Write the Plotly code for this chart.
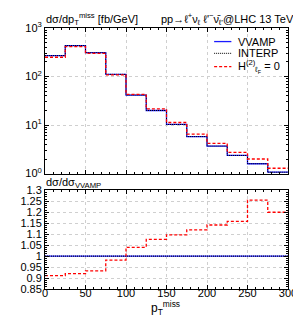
import plotly.graph_objects as go
from plotly.subplots import make_subplots

bin_edges = [0, 25, 50, 75, 100, 125, 150, 175, 200, 225, 250, 275, 300]
vvamp = [270, 435, 310, 111, 41.5, 20, 10.3, 5.8, 3.7, 2.37, 1.6, 1.07]
interp = [270, 435, 310, 111, 41.5, 20, 10.3, 5.8, 3.7, 2.37, 1.6, 1.07]
h2zero = [250, 415, 300, 108, 43, 21.5, 11.3, 6.5, 4.2, 2.74, 2.0, 1.29]
ratio_interp = [1.0] * 12
ratio_h2zero = [0.911, 0.92, 0.933, 0.982, 1.04, 1.076, 1.097, 1.12, 1.142, 1.158, 1.255, 1.20]
legend_names = ["VVAMP", "INTERP", "H<sup>(2)</sup><sub>ℓ<sub>F</sub></sub> = 0"]

FONT = "Liberation Sans, Arial, sans-serif"
BLUE = "#1a1aff"
RED = "#ff0000"
RED_DASH = "3px,2px"
DOT = "1px,1px"

def step(vals):
    return list(vals) + [vals[-1]]

fig = make_subplots(rows=2, cols=1, shared_xaxes=False, vertical_spacing=0.0)

fig.add_trace(go.Scatter(x=bin_edges, y=step(vvamp), mode="lines", line_shape="hv",
                         line=dict(color=BLUE, width=1.3), showlegend=False), row=1, col=1)
fig.add_trace(go.Scatter(x=bin_edges, y=step(interp), mode="lines", line_shape="hv",
                         line=dict(color="black", width=1, dash=DOT), showlegend=False), row=1, col=1)
fig.add_trace(go.Scatter(x=bin_edges, y=step(h2zero), mode="lines", line_shape="hv",
                         line=dict(color=RED, width=1.3, dash=RED_DASH), showlegend=False), row=1, col=1)

fig.add_trace(go.Scatter(x=bin_edges, y=step([1.0] * 12), mode="lines", line_shape="hv",
                         line=dict(color=BLUE, width=1.3), showlegend=False), row=2, col=1)
fig.add_trace(go.Scatter(x=bin_edges, y=step(ratio_interp), mode="lines", line_shape="hv",
                         line=dict(color="black", width=1, dash=DOT), showlegend=False), row=2, col=1)
fig.add_trace(go.Scatter(x=bin_edges, y=step(ratio_h2zero), mode="lines", line_shape="hv",
                         line=dict(color=RED, width=1.3, dash=RED_DASH), showlegend=False), row=2, col=1)

axis_common = dict(showline=True, linecolor="black", linewidth=1, mirror="allticks",
                   ticks="inside", tickcolor="black", ticklen=4,
                   showgrid=True, gridcolor="#cfcfcf", griddash="dot", gridwidth=1,
                   zeroline=False, tickfont=dict(family=FONT, size=11, color="black"))

fig.update_xaxes(**axis_common, range=[0, 300], tickvals=[0, 50, 100, 150, 200, 250, 300],
                 minor=dict(dtick=10, ticks="inside", ticklen=2, tickcolor="black", showgrid=False))
fig.update_xaxes(showticklabels=False, row=1, col=1)
fig.update_xaxes(row=2, col=1, ticktext=["0", "50", "100", "150", "200", "250", "300"],
                 ticklabelstandoff=-6)

fig.update_yaxes(**axis_common, row=1, col=1, type="log", range=[0, 3],
                 tickvals=[1, 10, 100, 1000],
                 ticktext=["10<sup>0</sup>", "10<sup>1</sup>", "10<sup>2</sup>", "10<sup>3</sup>"],
                 minor=dict(tickvals=[a * 10 ** b for b in range(3) for a in range(2, 10)],
                            ticks="inside", ticklen=2, tickcolor="black", showgrid=False))
fig.update_yaxes(**axis_common, row=2, col=1, range=[0.85, 1.3],
                 tickvals=[0.85, 0.9, 0.95, 1, 1.05, 1.1, 1.15, 1.2, 1.25, 1.3],
                 ticktext=["0.85", "0.9", "0.95", "1", "1.05", "1.1", "1.15", "1.2", "1.25", "1.3"],
                 minor=dict(dtick=0.01, ticks="inside", ticklen=2, tickcolor="black", showgrid=False))

# custom legend (sample lines + labels) in paper coordinates
leg_styles = [dict(color=BLUE, width=1.3), dict(color="black", width=1, dash=DOT),
              dict(color=RED, width=1.3, dash=RED_DASH)]
leg_y = [0.948, 0.903, 0.852]
shapes = []
annotations = []
for name, st, yy in zip(legend_names, leg_styles, leg_y):
    shapes.append(dict(type="line", xref="paper", yref="paper", x0=0.696, x1=0.767,
                       y0=yy, y1=yy, line=st))
    annotations.append(dict(text=name, xref="paper", yref="paper", x=0.785, y=yy,
                            xanchor="left", yanchor="middle", showarrow=False,
                            font=dict(family=FONT, size=11, color="black")))

annotations += [
    dict(text="dσ/dp<sub>T</sub><sup>miss</sup> [fb/GeV]", xref="paper", yref="paper",
         x=0.0, y=1.0, xanchor="left", yanchor="bottom", showarrow=False,
         font=dict(family=FONT, size=11), yshift=-1, xshift=-1),
    dict(text="pp→ℓ<sup>+</sup>ν<sub>ℓ</sub> ℓ'<sup>−</sup>ν̄<sub>ℓ'</sub>@LHC 13 TeV", xref="paper", yref="paper",
         x=1.031, y=1.0, xanchor="right", yanchor="bottom", showarrow=False,
         font=dict(family=FONT, size=11), yshift=-1),
    dict(text="dσ/dσ<sub>VVAMP</sub>", xref="paper", yref="paper",
         x=0.0, y=0.378, xanchor="left", yanchor="bottom", showarrow=False,
         font=dict(family=FONT, size=11), yshift=-2, xshift=-1),
    dict(text="p<sub>T</sub><sup>miss</sup>", xref="paper", yref="paper",
         x=0.494, y=-0.071, xanchor="center", yanchor="middle", showarrow=False,
         font=dict(family=FONT, size=12)),
]

fig.update_layout(
    width=301, height=316,
    margin=dict(l=31, r=13, t=14, b=35),
    paper_bgcolor="white", plot_bgcolor="white",
    showlegend=False,
    font=dict(family=FONT, size=11, color="black"),
    shapes=shapes,
    annotations=annotations,
)

fig.update_layout(yaxis=dict(domain=[0.442, 1.0]), yaxis2=dict(domain=[0.0, 0.378]))

fig.write_html("out.html")
